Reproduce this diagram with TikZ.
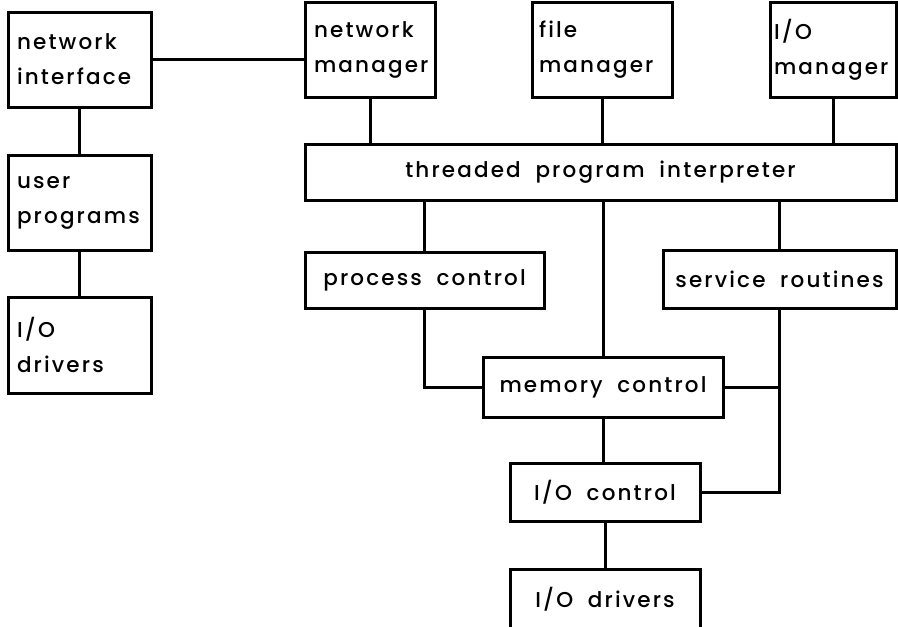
\documentclass[tikz,border=0pt]{standalone}
\usepackage{fontspec}
\setmainfont{Poppins}[UprightFont={* Medium}, LetterSpace=10, WordSpace=1.9]
\begin{document}
\begin{tikzpicture}[x=1pt,y=-1pt,
  box/.style={draw, line width=3pt, inner sep=0pt, font=\fontsize{21.5}{35}\selectfont},
  conn/.style={line width=3pt}]
\useasboundingbox (0,0) rectangle (898,627);
% top row
\node[box, minimum width=143pt, minimum height=95pt, text width=125pt, align=left] (ni) at (79.5,59.5) {network\\interface};
\node[box, minimum width=130pt, minimum height=95pt, text width=112pt, align=left] (nm) at (370,49.5) {network\\manager};
\node[box, minimum width=140pt, minimum height=95pt, text width=126pt, align=left] (fm) at (602,49.5) {file\\manager};
\node[box, minimum width=126pt, minimum height=95pt, text width=118pt, align=left] (iom) at (833,49.5) {I/O\\manager};
% interpreter
\node[box, minimum width=591pt, minimum height=56pt] (tpi) at (600.5,172) {threaded program interpreter};
% left column
\node[box, minimum width=143pt, minimum height=95pt, text width=125pt, align=left] (up) at (79.5,202.5) {user\\programs};
\node[box, minimum width=143pt, minimum height=96pt, text width=125pt, align=left] (iodl) at (79.5,345) {I/O\\drivers};
% middle
\node[box, minimum width=239pt, minimum height=56pt] (pc) at (424.5,280) {process control};
\node[box, minimum width=233pt, minimum height=58pt] (sr) at (779.5,279) {service routines};
\node[box, minimum width=240pt, minimum height=60pt] (mc) at (603,387) {memory control};
\node[box, minimum width=190pt, minimum height=58pt] (ioc) at (605,492) {I/O control};
\node[box, minimum width=190pt, minimum height=61pt] (iodb) at (605,599.5) {I/O drivers};
% connectors
\draw[conn] (ni.east) -- (ni.east -| nm.west);
\draw[conn] (ni.south) -- (up.north);
\draw[conn] (up.south) -- (iodl.north);
\draw[conn] (nm.south) -- (nm.south |- tpi.north);
\draw[conn] (fm.south) -- (fm.south |- tpi.north);
\draw[conn] (iom.south) -- (iom.south |- tpi.north);
\draw[conn] (pc.north |- tpi.south) -- (pc.north);
\draw[conn] (mc.north |- tpi.south) -- (mc.north);
\draw[conn] (sr.north |- tpi.south) -- (sr.north);
\draw[conn] (pc.south) |- (mc.west);
\draw[conn] (sr.south) |- (ioc.east);
\draw[conn] (mc.east) -- (mc.east -| sr.south);
\draw[conn] (mc.south) -- (mc.south |- ioc.north);
\draw[conn] (ioc.south) -- (ioc.south |- iodb.north);
\end{tikzpicture}
\end{document}
